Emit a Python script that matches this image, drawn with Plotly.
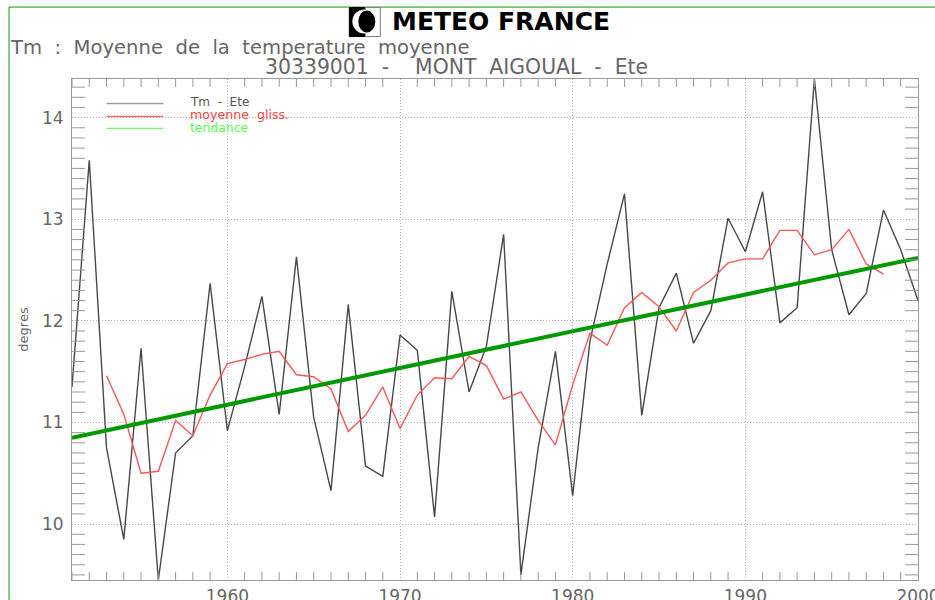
import plotly.graph_objects as go

years = list(range(1951, 2001))
tm_ete = [11.35, 13.58, 10.75, 9.85, 11.73, 9.45, 10.70, 10.87, 12.37, 10.92,
          11.55, 12.24, 11.08, 12.63, 11.05, 10.33, 12.16, 10.57, 10.47, 11.86,
          11.71, 10.07, 12.29, 11.30, 11.75, 12.85, 9.50, 10.75, 11.70, 10.28,
          11.80, 12.56, 13.25, 11.07, 12.13, 12.47, 11.78, 12.10, 13.01, 12.68,
          13.27, 11.98, 12.13, 14.38, 12.70, 12.06, 12.27, 13.09, 12.70, 12.20]
gliss_years = list(range(1953, 1999))
moyenne_gliss = [11.46, 11.08, 10.50, 10.52, 11.02, 10.87, 11.27, 11.58, 11.62, 11.67,
                 11.70, 11.47, 11.45, 11.33, 10.91, 11.07, 11.35, 10.94, 11.27, 11.44,
                 11.43, 11.65, 11.56, 11.23, 11.30, 11.02, 10.78, 11.37, 11.88, 11.76,
                 12.13, 12.28, 12.14, 11.90, 12.28, 12.40, 12.57, 12.61, 12.61, 12.89,
                 12.89, 12.65, 12.70, 12.90, 12.56, 12.46]
trend_years = [1951, 2000]
tendance = [10.85, 12.62]
x_tick_labels = ["1960", "1970", "1980", "1990", "2000"]
y_tick_labels = ["10", "11", "12", "13", "14"]

x_range = [1951, 2000]
y_range = [9.45, 14.38]
W, H = 935, 600
L, R, T, B = 71.5, 918, 78.5, 580

GREY = "#999999"
TEXT = "#666666"
FONT = "DejaVu Sans"
NB = "\u00a0"

fig = go.Figure()
fig.add_trace(go.Scatter(x=years, y=tm_ete, mode="lines", name="Tm - Ete",
                         line=dict(color="#484848", width=1.4)))
fig.add_trace(go.Scatter(x=gliss_years, y=moyenne_gliss, mode="lines", name="moyenne gliss.",
                         line=dict(color="#ff5555", width=1.4)))
fig.add_trace(go.Scatter(x=trend_years, y=tendance, mode="lines", name="tendance",
                         line=dict(color="#009900", width=4)))

axis_common = dict(showline=True, linecolor=GREY, linewidth=1, mirror=True, zeroline=False,
                   showgrid=True, gridcolor="#b4b4b4", griddash="1px,2px", gridwidth=1,
                   tickfont=dict(family=FONT, size=17, color=TEXT), ticks="",
                   automargin=False, ticklabeloverflow="allow")
fig.update_layout(
    width=W, height=H, autosize=False, showlegend=False,
    paper_bgcolor="white", plot_bgcolor="white",
    margin=dict(l=L, r=W - R, t=T, b=H - B),
    xaxis=dict(range=x_range, tickvals=[int(s) for s in x_tick_labels], ticktext=x_tick_labels,
               ticklabelstandoff=1, **axis_common),
    yaxis=dict(range=y_range, tickvals=[int(s) for s in y_tick_labels], ticktext=y_tick_labels,
               ticklabelstandoff=4,
               title=dict(text="degres", font=dict(family=FONT, size=13, color=TEXT), standoff=10),
               **axis_common),
)

shapes = []
def fx(v):
    return (v - L) / (R - L)
def fy(v):
    return (B - v) / (B - T)

for yr in years:
    if yr % 10 == 0:
        continue
    for y0, y1 in ((B, B - 8), (T, T + 8)):
        shapes.append(dict(type="line", xref="x", yref="paper", x0=yr, x1=yr, y0=fy(y0), y1=fy(y1),
                           line=dict(color=GREY, width=1)))
for i in range(95, 144):
    if i % 10 == 0:
        continue
    v = i / 10
    shapes.append(dict(type="line", xref="paper", yref="y", x0=0, x1=13 / (R - L), y0=v, y1=v,
                       line=dict(color=GREY, width=1)))
    shapes.append(dict(type="line", xref="paper", yref="y", x0=1 - 13 / (R - L), x1=1, y0=v, y1=v,
                       line=dict(color=GREY, width=1)))

def line_px(x0, y0, x1, y1, color, width):
    shapes.append(dict(type="line", xref="paper", yref="paper", x0=fx(x0), x1=fx(x1), y0=fy(y0), y1=fy(y1),
                       line=dict(color=color, width=width)))

def rect_px(x0, y0, x1, y1, fill, lc=None):
    shapes.append(dict(type="rect", xref="paper", yref="paper", x0=fx(x0), x1=fx(x1), y0=fy(y0), y1=fy(y1),
                       fillcolor=fill, line=dict(color=lc or fill, width=1)))

def disc_px(x0, y0, x1, y1, fill):
    shapes.append(dict(type="circle", xref="paper", yref="paper", x0=fx(x0), x1=fx(x1), y0=fy(y0), y1=fy(y1),
                       fillcolor=fill, line=dict(color=fill, width=0)))

# page frame
line_px(8.5, 6.5, 8.5, 600, "#00a000", 1)
line_px(8.5, 6.5, 935, 6.5, "#00a000", 1)
# legend samples
line_px(106, 103, 163, 103, "#a0a0a0", 1.6)
line_px(106, 116, 163, 116, "#ff6666", 1.4)
line_px(106, 128, 163, 128, "#66ff66", 1.2)
# logo
rect_px(349, 7, 365, 36, "black")
rect_px(365, 7, 380, 36, "white", "#808080")
disc_px(352, 9, 376, 33, "white")
disc_px(358, 10, 375, 32, "black")
disc_px(371, 9, 376, 14, "white")
fig.update_layout(shapes=shapes)

def label(x, y, text, size, color=TEXT, family=FONT, weight=None):
    fig.add_annotation(xref="paper", yref="paper", x=fx(x), y=fy(y), text=text, showarrow=False,
                       xanchor="left", yanchor="middle",
                       font=dict(family=family, size=size, color=color, weight=weight),
                       bgcolor="rgba(0,0,0,0)", borderpad=0, borderwidth=0, align="left")

s = NB * 2
label(392, 21, "METEO FRANCE", 25, "black", weight="bold")
label(9, 47, f"Tm{s}:{s}Moyenne{s}de{s}la{s}temperature{s}moyenne", 19.6)
label(265, 66, f"30339001{s}-{s}{s}MONT{s}AIGOUAL{s}-{s}Ete", 20.4)
label(190, 102, f"Tm{s}-{s}Ete", 12, "#555555")
label(190, 114.5, f"moyenne{s}gliss.", 12.6, "#ff4444")
label(190, 127.5, "tendance", 12.4, "#55ff55")

fig.write_html("out.html", config={"displayModeBar": False},
               post_script="document.body.style.margin='0';document.body.style.overflow='hidden';")
